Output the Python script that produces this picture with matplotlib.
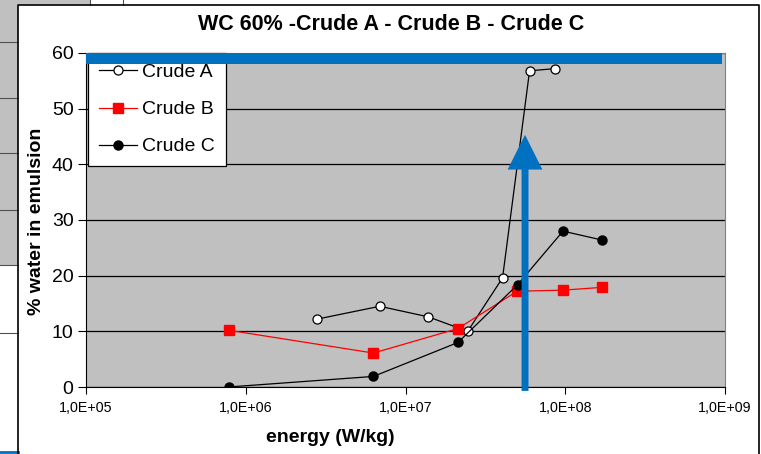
import numpy as np
import matplotlib.pyplot as plt
from matplotlib.patches import Rectangle
from matplotlib.lines import Line2D

plt.rcParams['font.family'] = ['Liberation Sans', 'DejaVu Sans']

# data
a_energy = [2.8e6, 6.9e6, 1.39e7, 2.45e7, 4.05e7, 5.98e7, 8.66e7]
a_water = [12.2, 14.5, 12.6, 10.0, 19.6, 56.8, 57.2]

b_energy = [7.8e5, 6.3e6, 2.13e7, 5.0e7, 9.7e7, 1.70e8]
b_water = [10.2, 6.1, 10.5, 17.2, 17.4, 17.9]

c_energy = [7.8e5, 6.3e6, 2.13e7, 5.04e7, 9.68e7, 1.70e8]
c_water = [0.0, 1.9, 8.0, 18.4, 28.0, 26.4]

x_ticks = [1e5, 1e6, 1e7, 1e8, 1e9]
x_tick_labels = ['1,0E+05', '1,0E+06', '1,0E+07', '1,0E+08', '1,0E+09']
y_ticks = [0, 10, 20, 30, 40, 50, 60]

arrow_x = 5.6e7
blue = '#0070C0'

fig = plt.figure(figsize=(7.61, 4.54), dpi=100)
W, H = 761, 454

# spreadsheet bits around the embedded chart
fig.patches.append(Rectangle((0, 1 - 265 / H), 18 / W, 265 / H, transform=fig.transFigure,
                             facecolor='#C0C0C0', edgecolor='none', zorder=0))
fig.patches.append(Rectangle((18 / W, 1 - 5 / H), 72 / W, 5 / H, transform=fig.transFigure,
                             facecolor='#C0C0C0', edgecolor='none', zorder=0))
for yy in [42, 98, 153, 210, 265, 333]:
    fig.add_artist(Line2D([0, 18 / W], [1 - yy / H] * 2, color='#505050', lw=0.8))
for xx in [90, 123]:
    fig.add_artist(Line2D([xx / W] * 2, [1, 1 - 5 / H], color='#505050', lw=0.8))
fig.add_artist(Line2D([0, 18 / W], [1 - 452 / H] * 2, color=blue, lw=2))
# chart border
fig.add_artist(Line2D([18 / W, 18 / W, 759 / W, 759 / W], [0, 1 - 5 / H, 1 - 5 / H, 0],
                      color='black', lw=1.2))

ax = fig.add_axes([86 / W, 1 - 387 / H, 639 / W, 334 / H])
ax.set_facecolor('#C0C0C0')

ax.plot(a_energy, a_water, color='black', lw=0.9, marker='o', ms=6.5,
        mfc='white', mec='black', mew=0.9, label='Crude A', zorder=3)
ax.plot(b_energy, b_water, color='red', lw=0.9, marker='s', ms=7,
        mfc='red', mec='red', label='Crude B', zorder=3)
ax.plot(c_energy, c_water, color='black', lw=0.9, marker='o', ms=6.5,
        mfc='black', mec='black', label='Crude C', zorder=3)

ax.set_xscale('log')
ax.set_xlim(1e5, 1e9)
ax.set_ylim(0, 60)
ax.set_xticks(x_ticks)
ax.set_xticklabels(x_tick_labels, fontsize=10.3)
ax.minorticks_off()
ax.set_yticks(y_ticks)
ax.tick_params(axis='y', labelsize=14, length=6, direction='out', pad=3)
ax.tick_params(axis='x', length=5, direction='out', pad=5)
ax.yaxis.grid(True, color='black', lw=0.9)
ax.set_axisbelow(True)
for s in ['top', 'right']:
    ax.spines[s].set_color('#808080')

leg = ax.legend(loc='upper left', bbox_to_anchor=(0.003, 1.0), borderaxespad=0,
                fontsize=14, handlelength=1.95, handletextpad=0.3, labelspacing=1.0,
                borderpad=0.55, fancybox=False, framealpha=1, edgecolor='black')
leg.get_frame().set_linewidth(0.9)

# blue band at the top and the arrow
ax.axhspan(58, 60, xmin=0, xmax=0.995, color=blue, zorder=6, lw=0)
ax.annotate('', xy=(arrow_x, 45.3), xytext=(arrow_x, -0.7), annotation_clip=False,
            arrowprops=dict(width=5, headwidth=25, headlength=25, shrink=0,
                            color=blue, lw=0), zorder=7)

fig.text(391 / W, 1 - 24 / H, 'WC 60% -Crude A - Crude B - Crude C', ha='center',
         va='center', fontsize=15.5, fontweight='bold')
fig.text(37 / W, 1 - 221 / H, '% water in emulsion', rotation=90, ha='center',
         va='center', fontsize=14, fontweight='bold')
fig.text(330 / W, 1 - 437 / H, 'energy (W/kg)', ha='center', va='center',
         fontsize=14, fontweight='bold')

fig.savefig('out.png', dpi=100)
